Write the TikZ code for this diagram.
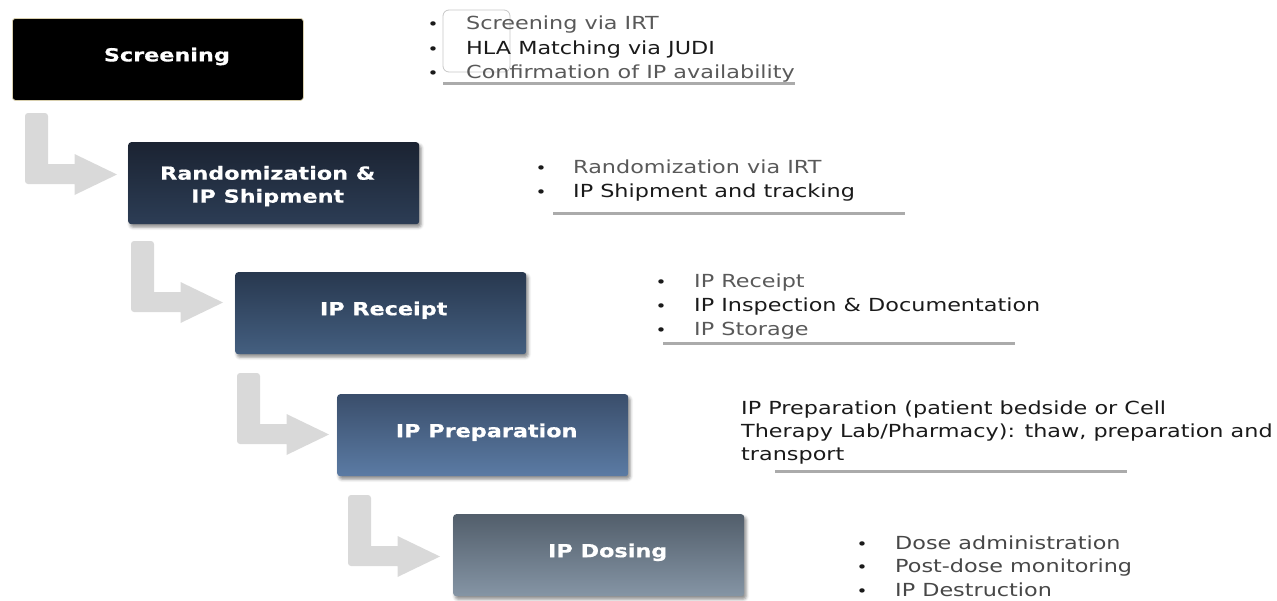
\documentclass[tikz,border=0pt]{standalone}
\usepackage{fontspec}
\setmainfont{DejaVu Sans}[FakeStretch=1.24, BoldFeatures={FakeBold=0.6}]
\usetikzlibrary{shadows.blur}

\definecolor{arrowgray}{HTML}{D9D9D9}
\definecolor{txtgray}{HTML}{595959}
\definecolor{txtdark}{HTML}{1A1A1A}
\definecolor{ruleg}{HTML}{ABABAB}
\definecolor{rimbeige}{HTML}{D8CFAE}

\tikzset{
  bendarrow/.pic={
    \fill[arrowgray] (92,61.5) -- (49.5,82) -- (49.5,71)
      [rounded corners=3pt] -- (0,71) -- (0,0) -- (23,0)
      [sharp corners] -- (23,51) -- (49.5,51) -- (49.5,41) -- cycle;
  }
}

\begin{document}
\begin{tikzpicture}[x=1pt,y=-1pt,
  stagebase/.style={rounded corners=3pt, minimum width=291pt, minimum height=82pt,
    anchor=north west, inner sep=0pt},
  stage/.style={stagebase,
    blur shadow={shadow xshift=2pt, shadow yshift=-3pt, shadow opacity=45, shadow blur radius=3pt}},
  stagetext/.style={text=white, font=\bfseries\fontsize{18}{23}\selectfont, align=center, inner sep=0pt},
  item/.style={anchor=base west, inner sep=0pt, font=\fontsize{18}{24}\selectfont},
  dot/.style={anchor=base, inner sep=0pt, font=\fontsize{15}{15}\selectfont, text=txtdark},
  rulebar/.style={line width=3pt, ruleg},
]
\useasboundingbox (0,0) rectangle (1277,600);

% process stages
\node[stagebase, fill=black, draw=rimbeige, line width=0.8pt] (scr) at (12,18) {};
\node[stage, top color={rgb,255:red,27;green,35;blue,50}, bottom color={rgb,255:red,44;green,61;blue,85}] (rnd) at (128,142) {};
\node[stage, top color={rgb,255:red,40;green,56;blue,79}, bottom color={rgb,255:red,68;green,95;blue,128}] (rcp) at (235,272) {};
\node[stage, top color={rgb,255:red,58;green,78;blue,107}, bottom color={rgb,255:red,91;green,123;blue,164}] (prp) at (337,394) {};
\node[stage, top color={rgb,255:red,82;green,94;blue,107}, bottom color={rgb,255:red,133;green,149;blue,165}] (dos) at (453,514) {};

\node[stagetext, anchor=base] (scr-t) at ([xshift=9pt,yshift=-2pt]scr.center) {Screening};
\node[stagetext, anchor=center] (rnd-t) at ([xshift=-6pt,yshift=-3pt]rnd.center) {Randomization \&\\IP Shipment};
\node[stagetext, anchor=base] (rcp-t) at ([xshift=3pt,yshift=-2pt]rcp.center) {IP Receipt};
\node[stagetext, anchor=base] (prp-t) at ([xshift=4pt,yshift=-2pt]prp.center) {IP Preparation};
\node[stagetext, anchor=base] (dos-t) at ([xshift=9pt,yshift=-2pt]dos.center) {IP Dosing};

% bent arrows between stages
\pic (a1) at (25,113) {bendarrow};
\pic (a2) at (131,241) {bendarrow};
\pic (a3) at (237,373) {bendarrow};
\pic (a4) at (348,495) {bendarrow};

% screening details
\draw[black!22, line width=0.8pt, rounded corners=6pt] (443,10) rectangle (510,72);
\node[dot] (d11) at (433,29) {•};
\node[dot] (d12) at (433,54) {•};
\node[dot] (d13) at (433,78) {•};
\node[item, text=txtgray] (t11) at (466,29) {Screening via IRT};
\node[item, text=txtdark] (t12) at (466,54) {HLA Matching via JUDI};
\node[item, text=txtgray] (t13) at (466,78) {Confirmation of IP availability};
\draw[rulebar] (443,83) -- (795,83);

% randomization details
\node[dot] (d21) at (541,173) {•};
\node[dot] (d22) at (541,197) {•};
\node[item, text=txtgray] (t21) at (573,173) {Randomization via IRT};
\node[item, text=txtdark] (t22) at (573,197) {IP Shipment and tracking};
\draw[rulebar] (553,213) -- (905,213);

% receipt details
\node[dot] (d31) at (661,287) {•};
\node[dot] (d32) at (661,311) {•};
\node[dot] (d33) at (661,335) {•};
\node[item, text=txtgray] (t31) at (694,287) {IP Receipt};
\node[item, text=txtdark] (t32) at (694,311) {IP Inspection \& Documentation};
\node[item, text=txtgray] (t33) at (694,335) {IP Storage};
\draw[rulebar] (663,343) -- (1015,343);

% preparation details
\node[item, text=txtdark] (t41) at (741,414) {IP Preparation (patient bedside or Cell};
\node[item, text=txtdark] (t42) at (741,437) {Therapy Lab/Pharmacy): thaw, preparation and};
\node[item, text=txtdark] (t43) at (741,460) {transport};
\draw[rulebar] (775,471) -- (1127,471);

% dosing details
\node[dot] (d51) at (862,549) {•};
\node[dot] (d52) at (862,572) {•};
\node[dot] (d53) at (862,596) {•};
\node[item, text=txtgray!80!black] (t51) at (895,549) {Dose administration};
\node[item, text=txtgray!80!black] (t52) at (895,572) {Post-dose monitoring};
\node[item, text=txtgray!80!black] (t53) at (895,596) {IP Destruction};
\end{tikzpicture}
\end{document}
